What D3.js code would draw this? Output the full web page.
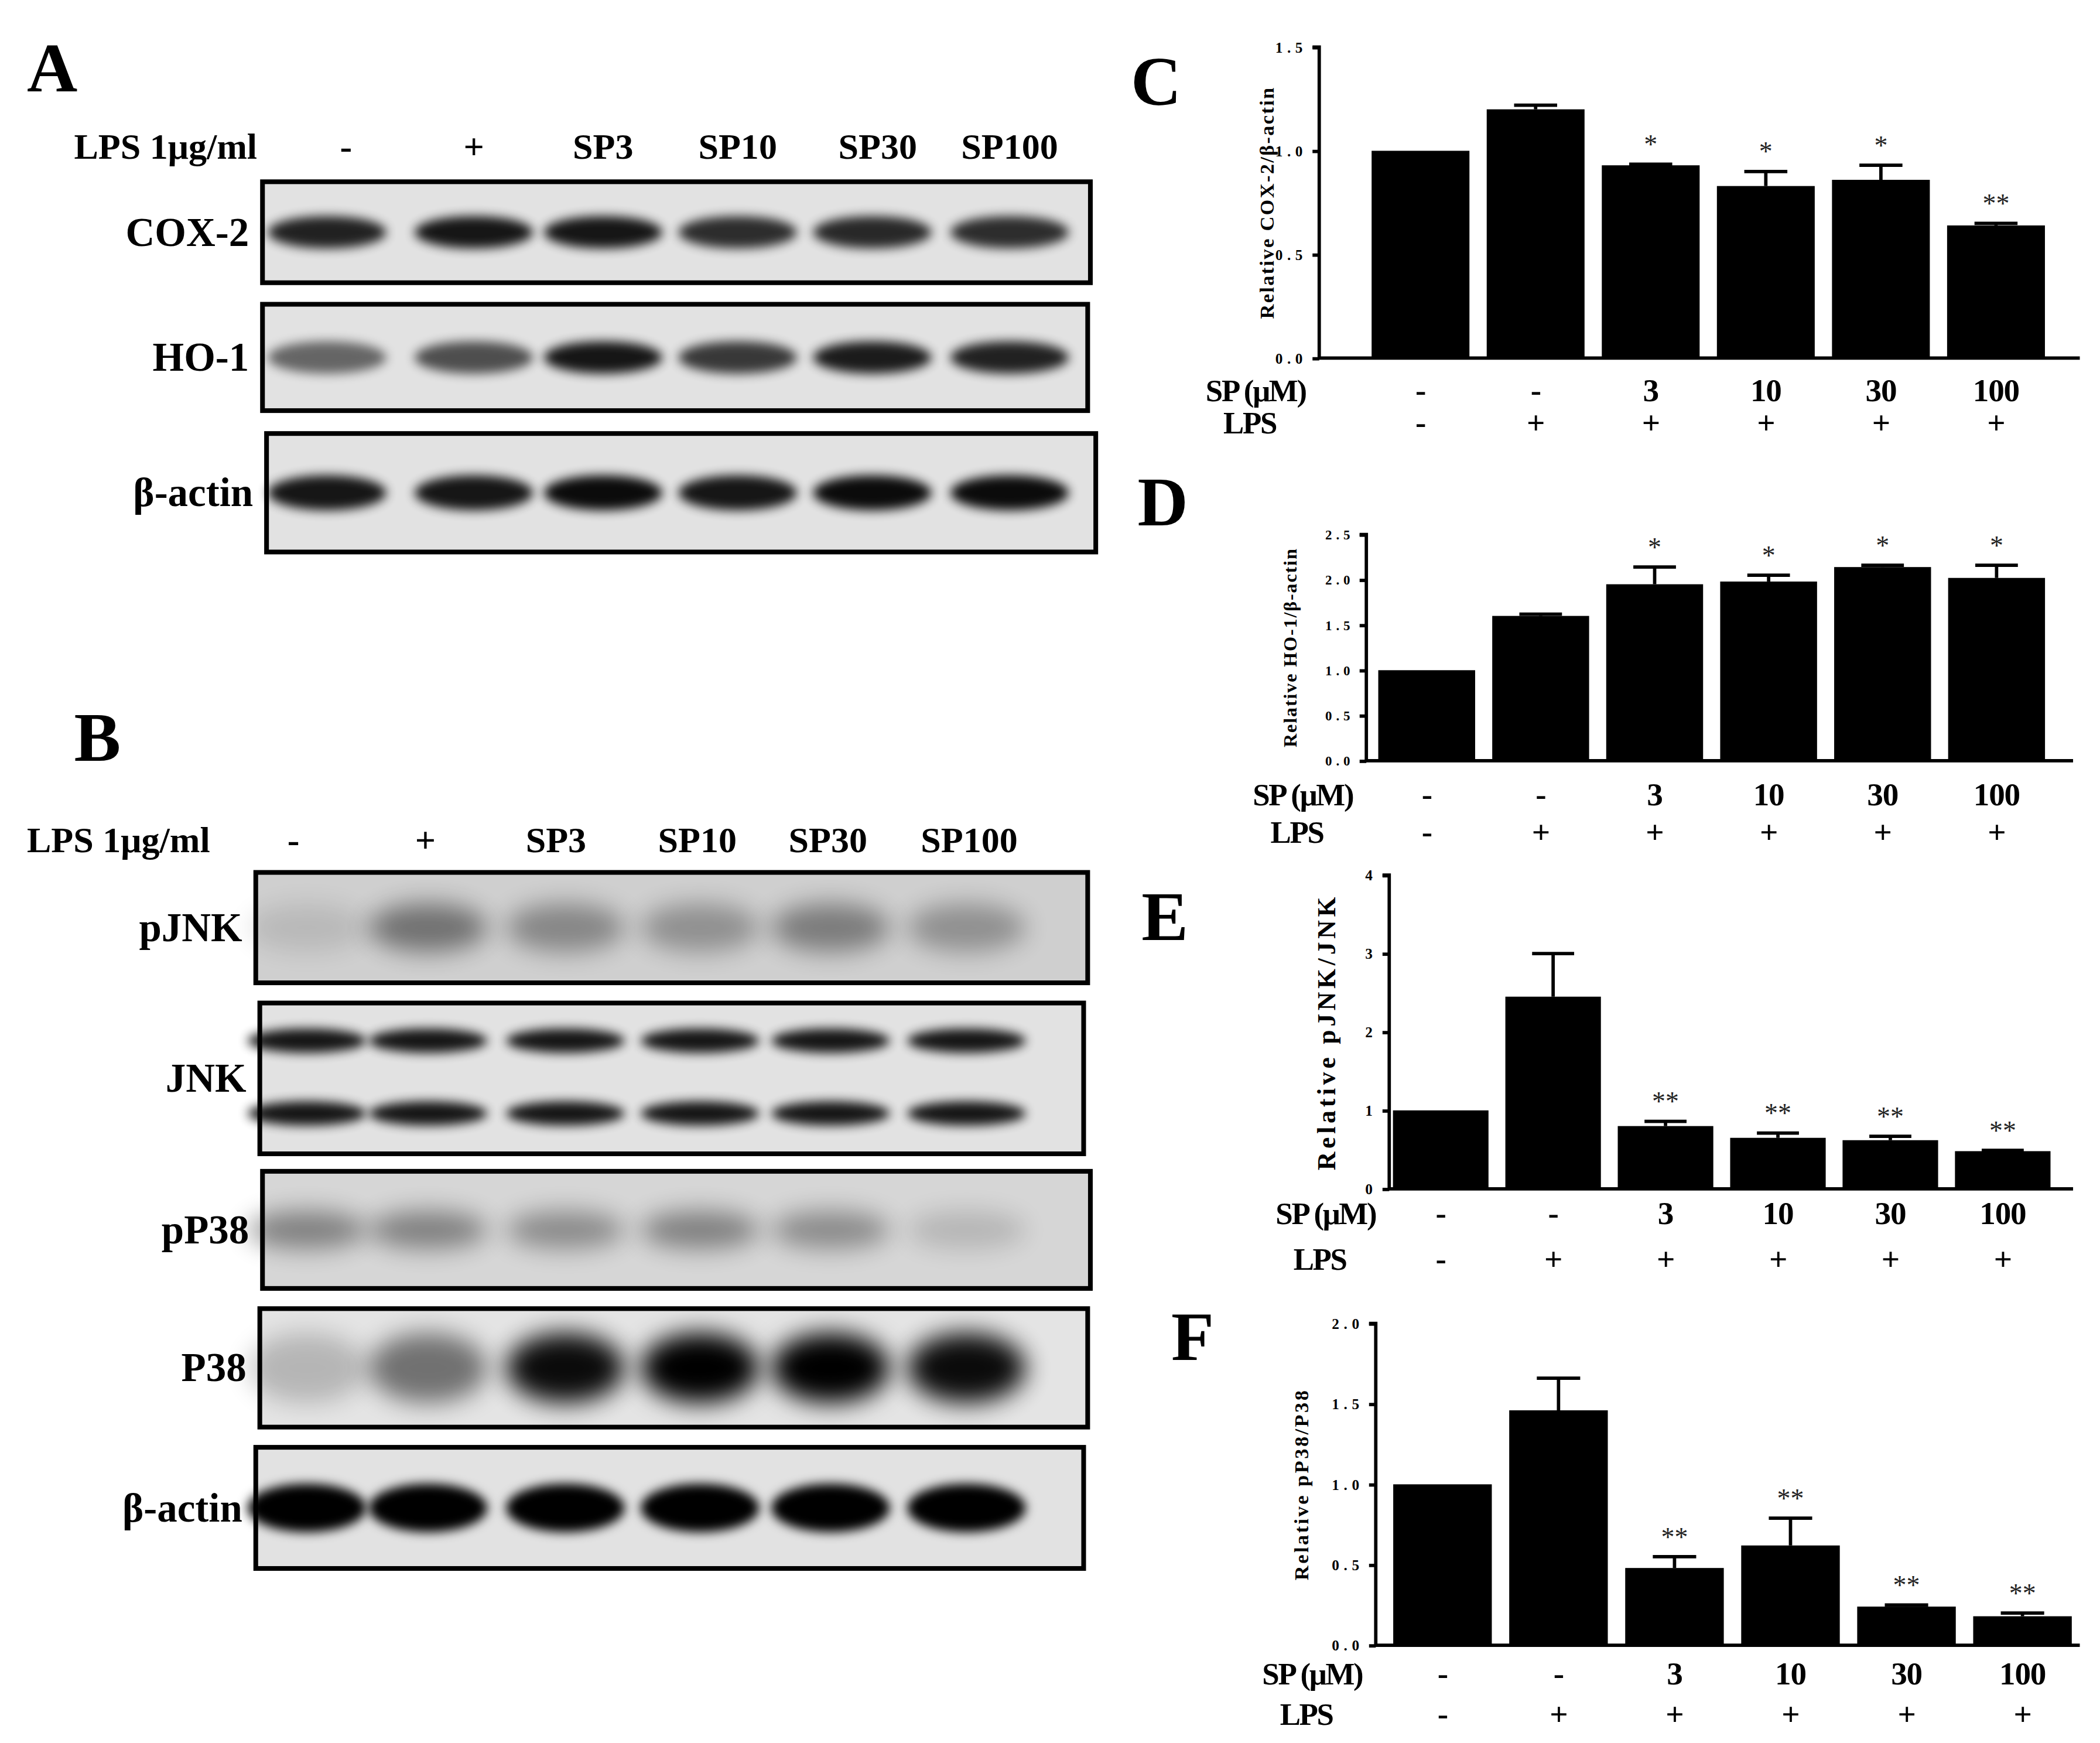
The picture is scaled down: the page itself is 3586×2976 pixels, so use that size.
<!DOCTYPE html>
<html><head><meta charset="utf-8">
<script src="https://cdn.jsdelivr.net/npm/d3@7"></script>
<style>body{margin:0;background:#fff}</style></head>
<body><svg id="c" width="3586" height="2976"></svg>
<script>
const groups = ["g1","g2","g3","g4","g5","g6"];
const spLabels = ["-","-","3","10","30","100"];
const lpsLabels = ["-","+","+","+","+","+"];
const laneLabels = ["-","+","SP3","SP10","SP30","SP100"];
const cox2 = [1.0,1.2,0.93,0.83,0.86,0.64];
const cox2Err = [0,0.02,0.005,0.07,0.07,0.01];
const cox2Sig = ["","","*","*","*","**"];
const ho1 = [1.0,1.6,1.95,1.98,2.14,2.02];
const ho1Err = [0,0.02,0.19,0.07,0.02,0.14];
const ho1Sig = ["","","*","*","*","*"];
const pjnk = [1.0,2.45,0.8,0.65,0.62,0.48];
const pjnkErr = [0,0.55,0.06,0.06,0.05,0.01];
const pjnkSig = ["","","**","**","**","**"];
const pp38 = [1.0,1.46,0.48,0.62,0.24,0.18];
const pp38Err = [0,0.2,0.07,0.17,0.01,0.02];
const pp38Sig = ["","","**","**","**","**"];
// blot band intensities (0-1) per lane
const bandCOX2 = [0.85,0.9,0.9,0.8,0.82,0.8];
const bandHO1 = [0.55,0.65,0.9,0.75,0.88,0.85];
const bandActinA = [0.9,0.9,0.95,0.9,0.95,0.95];
const bandPJNK = [0.1,0.45,0.35,0.3,0.4,0.3];
const bandJNK = [0.9,0.9,0.9,0.9,0.9,0.9];
const bandPP38 = [0.4,0.4,0.35,0.4,0.35,0.15];
const bandP38 = [0.2,0.5,0.95,1,1,0.95];
const bandActinB = [1,1,1,1,1,1];

const S = 3586/1560;
const svg = d3.select("#c");
const defs = svg.append("defs");
defs.append("filter").attr("id","blur").attr("x","-30%").attr("y","-100%").attr("width","160%").attr("height","300%")
  .append("feGaussianBlur").attr("stdDeviation",4);
defs.append("filter").attr("id","blur2").attr("x","-30%").attr("y","-100%").attr("width","160%").attr("height","300%")
  .append("feGaussianBlur").attr("stdDeviation",9);
const root = svg.append("g").attr("transform",`scale(${S})`);
const serif = "'Liberation Serif','DejaVu Serif',serif";

function letter(t,x,y){root.append("text").attr("x",x).attr("y",y).text(t)
  .attr("font-family",serif).attr("font-weight","bold").attr("font-size",52);}

function bar(c){
  const g = root.append("g");
  const step = (c.centers[1]-c.centers[0]);
  const x = d3.scaleBand().domain(groups).range([c.centers[0]-step/2, c.centers[5]+step/2]).paddingInner(0.15).paddingOuter(0.075);
  const y = d3.scaleLinear().domain([0,c.max]).range([c.zero,c.top]);
  g.selectAll(".err").data(c.vals).join("g").each(function(d,i){
    if(!c.err[i]) return;
    const cx = x(groups[i])+x.bandwidth()/2, yy=y(d+c.err[i]);
    d3.select(this).append("line").attr("x1",cx).attr("x2",cx).attr("y1",y(d)).attr("y2",yy).attr("stroke","#000").attr("stroke-width",2.5);
    d3.select(this).append("line").attr("x1",cx-x.bandwidth()*0.22).attr("x2",cx+x.bandwidth()*0.22).attr("y1",yy).attr("y2",yy).attr("stroke","#000").attr("stroke-width",2.5);
  });
  g.selectAll("rect").data(c.vals).join("rect").attr("x",(d,i)=>x(groups[i])).attr("width",x.bandwidth())
    .attr("y",d=>y(d)).attr("height",d=>c.zero-y(d)).attr("fill","#000");
  g.selectAll(".sig").data(c.sig).join("text").attr("text-anchor","middle")
    .attr("x",(d,i)=>x(groups[i])+x.bandwidth()/2).attr("y",(d,i)=>y(c.vals[i]+c.err[i])-8)
    .text(d=>d).attr("font-family",serif).attr("font-size",20).attr("fill","#222");
  const ax = g.append("g").attr("transform",`translate(${c.ax},0)`)
    .call(d3.axisLeft(y).tickValues(c.ticks).tickFormat(c.fmt).tickSize(5));
  ax.select(".domain").attr("stroke-width",2.5).attr("d",`M-5,${c.top}H0V${c.zero}`);
  ax.selectAll(".tick line").attr("stroke-width",2.5);
  ax.selectAll("text").attr("font-family",serif).attr("font-weight","bold").attr("font-size",c.tickFs).attr("letter-spacing",c.tickFs*0.3).attr("x",-9);
  g.append("line").attr("x1",c.ax-1).attr("x2",c.right).attr("y1",c.zero).attr("y2",c.zero).attr("stroke","#000").attr("stroke-width",2.5);
  g.append("text").attr("transform",`translate(${c.ylx},${(c.top+c.zero)/2}) rotate(-90)`).attr("text-anchor","middle")
    .text(c.ylabel).attr("font-family",serif).attr("font-weight","bold").attr("font-size",c.yfs).attr("letter-spacing",c.yls);
  const rowT = (arr,yy)=>g.selectAll(null).data(arr).join("text").attr("text-anchor","middle")
    .attr("x",(d,i)=>x(groups[i])+x.bandwidth()/2).attr("y",yy).text(d=>d)
    .attr("font-family",serif).attr("font-weight","bold").attr("font-size",24).attr("letter-spacing",-0.5);
  rowT(spLabels,c.spY); rowT(lpsLabels,c.lpsY);
  g.append("text").attr("x",c.ax-10).attr("y",c.spY).attr("text-anchor","end").text("SP (μM)").attr("font-family",serif).attr("font-weight","bold").attr("font-size",23).attr("letter-spacing",-1);
  g.append("text").attr("x",c.ax-32).attr("y",c.lpsY).attr("text-anchor","end").text("LPS").attr("font-family",serif).attr("font-weight","bold").attr("font-size",23).attr("letter-spacing",-1);
}

letter("C",840,78);
bar({vals:cox2,err:cox2Err,sig:cox2Sig,centers:[1055,1140,1225,1312,1397,1483],max:1.5,top:35,zero:266,ax:980,right:1545,
  ticks:[0,0.5,1,1.5],fmt:d3.format(".1f"),tickFs:11,ylabel:"Relative COX-2/β-actin",ylx:946,yfs:15,yls:1,spY:298,lpsY:322});
letter("D",845,390);
bar({vals:ho1,err:ho1Err,sig:ho1Sig,centers:[1060,1145,1230,1313,1397,1483],max:2.5,top:397,zero:565,ax:1015,right:1540,
  ticks:[0,0.5,1,1.5,2,2.5],fmt:d3.format(".1f"),tickFs:10,ylabel:"Relative HO-1/β-actin",ylx:963,yfs:14,yls:0.8,spY:598,lpsY:626});
letter("E",848,698);
bar({vals:pjnk,err:pjnkErr,sig:pjnkSig,centers:[1070,1153,1237,1320,1404,1488],max:4,top:650,zero:883,ax:1032,right:1540,
  ticks:[0,1,2,3,4],fmt:d3.format("d"),tickFs:11,ylabel:"Relative pJNK/JNK",ylx:992,yfs:19,yls:2.5,spY:909,lpsY:943});
letter("F",870,1010);
bar({vals:pp38,err:pp38Err,sig:pp38Sig,centers:[1072,1159,1245,1332,1418,1502],max:2,top:983,zero:1222,ax:1022,right:1545,
  ticks:[0,0.5,1,1.5,2],fmt:d3.format(".1f"),tickFs:11,ylabel:"Relative pP38/P38",ylx:972,yfs:15,yls:1.5,spY:1251,lpsY:1281});

// Western blots
function header(x0,y,lanes){
  root.append("text").attr("x",x0).attr("y",y).text("LPS 1μg/ml").attr("font-family",serif).attr("font-weight","bold").attr("font-size",27);
  root.selectAll(null).data(laneLabels).join("text").attr("x",(d,i)=>lanes[i]).attr("y",y).attr("text-anchor","middle")
    .text(d=>d).attr("font-family",serif).attr("font-weight","bold").attr("font-size",27);
}
function blot(label,box,lanes,ints,opts){
  const [x0,y0,x1,y1]=box;
  const g=root.append("g");
  const bg = opts.bg||"#e2e2e2";
  g.append("rect").attr("x",x0).attr("y",y0).attr("width",x1-x0).attr("height",y1-y0).attr("fill",bg);
  const rows = opts.rows||[(y0+y1)/2];
  rows.forEach(ry=>{
    g.selectAll(null).data(ints).join("ellipse").attr("cx",(d,i)=>lanes[i]).attr("cy",ry)
      .attr("rx",opts.rx||44).attr("ry",opts.ry||11).attr("fill","#000").attr("opacity",d=>d)
      .attr("filter",`url(#${opts.f||"blur"})`);
  });
  g.append("rect").attr("x",x0).attr("y",y0).attr("width",x1-x0).attr("height",y1-y0).attr("fill","none").attr("stroke","#000").attr("stroke-width",3.5);
  root.append("text").attr("x",x0-10).attr("y",(y0+y1)/2+10).attr("text-anchor","end").text(label)
    .attr("font-family",serif).attr("font-weight","bold").attr("font-size",30);
}
letter("A",20,68);
const lanesA=[243,352,448,548,648,750];
header(55,118,[257,352,448,548,652,750]);
blot("COX-2",[195,135,810,210],lanesA,bandCOX2,{ry:12});
blot("HO-1",[195,226,808,305],lanesA,bandHO1,{ry:12});
blot("β-actin",[198,322,814,410],lanesA,bandActinA,{ry:13});
letter("B",55,565);
const lanesB=[228,318,420,520,617,718];
header(20,633,[218,316,413,518,615,720]);
blot("pJNK",[190,648,808,730],lanesB,bandPJNK,{ry:18,f:"blur2",bg:"#cfcfcf"});
blot("JNK",[193,745,805,857],lanesB,bandJNK,{rows:[773,827],ry:9});
blot("pP38",[195,870,810,957],lanesB,bandPP38,{ry:14,f:"blur2",bg:"#d6d6d6"});
blot("P38",[193,972,808,1060],lanesB,bandP38,{ry:26,f:"blur2",bg:"#e4e4e4"});
blot("β-actin",[190,1075,805,1165],lanesB,bandActinB,{ry:18});
</script></body></html>
